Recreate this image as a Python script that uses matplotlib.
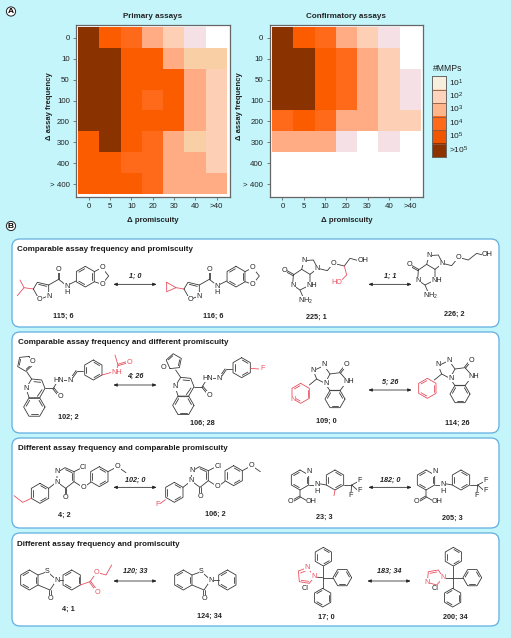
import numpy as np
import matplotlib
matplotlib.use("Agg")
import matplotlib.pyplot as plt
from matplotlib.colors import ListedColormap
from matplotlib.patches import FancyBboxPatch, Circle

plt.rcParams['font.family'] = ['Liberation Sans', 'DejaVu Sans']
plt.rcParams['mathtext.default'] = 'regular'

W, H = 511, 638
BG = '#c4f5fb'
INK = '#3a3a3a'
RED = '#e8505f'
BOX = '#62aee0'

# heatmap data: index into cell_colors
freq_labels = ['0', '10', '50', '100', '200', '300', '400', '> 400']
prom_labels = ['0', '5', '10', '20', '30', '40', '>40']
cell_colors = ['#ffffff', '#f5e1e5', '#fdd0b5', '#ffac84', '#ff6a1a', '#fb5c00', '#8b3300', '#f9cfa5']
primary = [[6, 5, 4, 3, 2, 1, 0],
           [6, 6, 5, 5, 3, 7, 7],
           [6, 6, 5, 5, 5, 3, 2],
           [6, 6, 5, 4, 5, 3, 2],
           [6, 6, 5, 5, 5, 3, 2],
           [5, 6, 5, 4, 3, 7, 2],
           [5, 5, 4, 4, 3, 3, 2],
           [5, 5, 5, 4, 3, 3, 3]]
confirm = [[6, 5, 4, 3, 2, 1, 0],
           [6, 6, 5, 4, 3, 2, 0],
           [6, 6, 5, 4, 3, 2, 1],
           [6, 6, 5, 4, 3, 2, 1],
           [4, 5, 4, 3, 3, 2, 2],
           [3, 3, 3, 1, 0, 1, 0],
           [0, 0, 0, 0, 0, 0, 0],
           [0, 0, 0, 0, 0, 0, 0]]
legend_labels = ['10$^{1}$', '10$^{2}$', '10$^{3}$', '10$^{4}$', '10$^{5}$', '>10$^{5}$']
legend_colors = ['#f5efdc', '#fdd3bc', '#ffb48a', '#ff6a1a', '#f05500', '#8c3300']

panel_titles = ['Comparable assay frequency and promiscuity',
                'Comparable assay frequency and different promiscuity',
                'Different assay frequency and comparable promiscuity',
                'Different assay frequency and promiscuity']


def px_axes(x0, y0, x1, y1):
    return fig.add_axes([x0 / W, 1 - y1 / H, (x1 - x0) / W, (y1 - y0) / H])


def heat(x0, data, title):
    ax = px_axes(x0, 25, x0 + 153.5, 197)
    ax.imshow(data, cmap=ListedColormap(cell_colors), vmin=0, vmax=7, aspect='auto',
              interpolation='nearest')
    ax.set_xlim(-0.61, 6.61)
    ax.set_ylim(7.62, -0.62)
    ax.set_xticks(range(7), prom_labels)
    ax.set_yticks(range(8), freq_labels)
    ax.tick_params(length=2.5, width=0.6, color='#666666', labelsize=5.7, pad=2, labelcolor='#222222')
    for s in ax.spines.values():
        s.set_color('#666666')
        s.set_linewidth(0.9)
    ax.set_title(title, fontsize=5.8, fontweight='bold', pad=5, color='#222222')
    ax.set_xlabel('Δ promiscuity', fontsize=5.6, fontweight='bold', labelpad=5, color='#222222')


fig = plt.figure(figsize=(W / 100, H / 100), dpi=100, facecolor=BG)
heat(76, primary, 'Primary assays')
heat(269.5, confirm, 'Confirmatory assays')

# legend
lax = px_axes(432, 76, 445.5, 157)
lax.imshow([[i] for i in range(6)], cmap=ListedColormap(legend_colors), aspect='auto')
lax.set_xticks([])
lax.set_yticks([])
for i in range(1, 6):
    lax.axhline(i - 0.5, color='#8a5a40', lw=0.6)
for s in lax.spines.values():
    s.set_color('#666666')
    s.set_linewidth(0.7)

# overlay in pixel coordinates, everything of panel B lives here
ov = fig.add_axes([0, 0, 1, 1], facecolor='none')
ov.set_xlim(0, W)
ov.set_ylim(H, 0)
ov.axis('off')

for x in (49.5, 239.5):
    ov.text(x, 106, 'Δ assay frequency', rotation=90, fontsize=5.5, fontweight='bold',
            ha='center', va='center', color='#222222')
ov.text(433, 68.5, '#MMPs', fontsize=6.2, ha='left', va='center', color='#222222')
for i, lab in enumerate(legend_labels):
    ov.text(449, 83 + i * 13.4, lab, fontsize=6, ha='left', va='center', color='#222222')


def letter(y, s):
    ov.add_patch(Circle((11, y), 4.6, fc='white', ec='#222222', lw=0.7))
    ov.text(11, y + 0.2, s, fontsize=6, fontweight='bold', ha='center', va='center')


letter(11.5, 'A')
letter(226, 'B')

panels = [(239, 327), (332, 433), (438, 528), (533, 626)]
title_pos = [(17, 249.5), (18, 343), (18, 449), (17, 544)]
for (y0, y1), t, (tx, ty) in zip(panels, panel_titles, title_pos):
    ov.add_patch(FancyBboxPatch((12 + 8, y0 + 8), 487 - 16, y1 - y0 - 16,
                                boxstyle='round,pad=8,rounding_size=8',
                                fc='white', ec=BOX, lw=0.9))
    ov.text(tx, ty, t, fontsize=5.75, fontweight='bold', ha='left', va='center', color='#1a1a1a')


# molecule helpers, coordinates are 3x pixels relative to an origin
def Z(o, x, y):
    return o[0] + x / 3, o[1] + y / 3


def poly(o, pts, c=INK, closed=False):
    p = [Z(o, *q) for q in pts]
    if closed:
        p.append(p[0])
    ov.plot([q[0] for q in p], [q[1] for q in p], color=c, lw=0.6, solid_capstyle='round', zorder=3)


def dbond(o, a, b, c=INK):
    a, b = np.array(a, float), np.array(b, float)
    n = np.array([b[1] - a[1], a[0] - b[0]])
    n = n / np.hypot(*n) * 2.2
    poly(o, [a + n, b + n], c)
    poly(o, [a - n, b - n], c)


def ring(o, cx, cy, r, rot=90, dbl=(0, 2, 4), c=INK, n=6):
    a = np.radians(rot + np.arange(n) * 360 / n)
    v = np.c_[cx + r * np.cos(a), cy - r * np.sin(a)]
    poly(o, v, c, closed=True)
    m = np.array([cx, cy])
    for i in dbl:
        p = m + (v[i] - m) * 0.8
        q = m + (v[(i + 1) % n] - m) * 0.8
        poly(o, [p + (q - p) * 0.1, q - (q - p) * 0.1], c)


def atom(o, x, y, s, c='#222222'):
    xx, yy = Z(o, x, y)
    ov.text(xx, yy, s, fontsize=5.2, color=c, ha='center', va='center', zorder=4,
            bbox=dict(fc='white', ec='none', pad=0.25))


def caption(o, x, y, s):
    xx, yy = Z(o, x, y)
    ov.text(xx, yy, s, fontsize=5.2, fontweight='bold', ha='center', va='center', color='#222222')


def arrow(o, x0, x1, y, label, ly):
    a, b = Z(o, x0, y), Z(o, x1, y)
    ov.annotate('', xy=b, xytext=a, arrowprops=dict(arrowstyle='<|-|>,head_width=0.09,head_length=0.22',
                                                    color='#222222', lw=0.55, shrinkA=0, shrinkB=0))
    xx, yy = Z(o, (x0 + x1) / 2, ly)
    ov.text(xx, yy, label, fontsize=5.2, fontweight='bold', style='italic', ha='center', va='center', color='#222222')


def isoxazole(o):
    poly(o, [(100, 192), (112, 172), (146, 180), (146, 212), (118, 224)], closed=True)
    poly(o, [(116, 178), (140, 184)])
    poly(o, [(146, 180), (176, 163), (200, 182)])
    dbond(o, (176, 163), (176, 136))
    atom(o, 146, 214, 'N')
    atom(o, 118, 224, 'O')
    atom(o, 176, 133, 'O')
    atom(o, 200, 186, 'N')
    atom(o, 200, 204, 'H')
    poly(o, [(204, 180), (228, 168)])
    ring(o, 256, 155, 31)
    poly(o, [(283, 140), (306, 128), (326, 153), (306, 178), (283, 170)])
    atom(o, 306, 128, 'O')
    atom(o, 306, 178, 'O')


def guanine(o):
    poly(o, [(130, 150), (128, 180), (150, 195), (180, 180), (180, 148), (155, 133)], closed=True)
    dbond(o, (130, 150), (105, 136))
    atom(o, 102, 135, 'O')
    poly(o, [(155, 133), (162, 107), (190, 105), (203, 130), (180, 148)])
    poly(o, [(150, 195), (160, 218)])
    atom(o, 128, 182, 'N')
    atom(o, 186, 182, 'NH')
    atom(o, 166, 228, 'NH$_2$')
    atom(o, 162, 107, 'N')
    atom(o, 202, 131, 'N')


def quinoline(o, furan_rot, furan_at):
    poly(o, [(78, 490), (95, 462), (125, 465), (135, 490), (118, 520), (88, 520)], closed=True)
    poly(o, [(102, 470), (122, 472)])
    poly(o, [(126, 494), (112, 514)])
    ring(o, 103, 546, 32, rot=0, dbl=(0, 2, 4))
    poly(o, [(95, 462), (80, 440)])
    ring(o, 75, 415, 24, rot=furan_rot, dbl=(1, 3), n=5)
    atom(o, furan_at[0], furan_at[1], 'O')
    atom(o, 78, 490, 'N')
    poly(o, [(135, 490), (160, 490)])
    dbond(o, (160, 490), (178, 512))
    atom(o, 181, 516, 'O')
    poly(o, [(160, 490), (172, 470)])
    atom(o, 175, 465, 'HN')
    poly(o, [(185, 465), (205, 465)])
    atom(o, 211, 465, 'N')
    dbond(o, (216, 458), (230, 438))
    poly(o, [(230, 438), (250, 438)])


def triazolo(o):
    poly(o, [(190, 437), (222, 422), (240, 447), (225, 475), (200, 462)], closed=True)
    poly(o, [(240, 447), (270, 443), (292, 468), (270, 497), (240, 497), (225, 475)])
    dbond(o, (270, 443), (285, 424))
    atom(o, 288, 420, 'O')
    ring(o, 255, 522, 30, rot=0, dbl=(0, 2, 4))
    atom(o, 190, 435, 'N')
    atom(o, 222, 420, 'N')
    atom(o, 227, 475, 'N')
    atom(o, 295, 470, 'NH')
    poly(o, [(200, 462), (178, 480)])


def pyridazinone(o):
    poly(o, [(172, 142), (195, 128), (222, 140), (222, 170), (197, 190), (170, 170)], closed=True)
    poly(o, [(197, 134), (216, 143)])
    poly(o, [(216, 145), (216, 165)])
    dbond(o, (197, 190), (197, 215))
    atom(o, 197, 218, 'O')
    atom(o, 172, 140, 'N')
    atom(o, 170, 171, 'N')
    poly(o, [(222, 140), (240, 131)])
    atom(o, 250, 128, 'Cl')
    poly(o, [(222, 170), (250, 188), (272, 172)])
    atom(o, 250, 188, 'O')
    ring(o, 298, 155, 30, rot=90, dbl=(1, 3, 5))
    poly(o, [(324, 140), (352, 125), (378, 143)])
    atom(o, 352, 125, 'O')
    poly(o, [(170, 171), (146, 190)])
    ring(o, 120, 205, 30, rot=90, dbl=(1, 3, 5))


def benzisothiazolone(o):
    ring(o, 88, 465, 30, rot=90, dbl=(0, 2, 4))
    poly(o, [(114, 450), (142, 440), (170, 465), (150, 495), (114, 480)])
    dbond(o, (150, 495), (150, 518))
    atom(o, 150, 522, 'O')
    atom(o, 142, 440, 'S')
    atom(o, 170, 465, 'N')


# box 1
C3, C4, C5, C6 = (0, 225), (250, 225), (0, 425), (250, 425)
isoxazole(C3)
poly(C3, [(100, 192), (72, 188), (60, 165)], RED)
poly(C3, [(72, 188), (52, 212)], RED)
caption(C3, 189, 273, '115; 6')
arrow(C3, 340, 470, 178, '1; 0', 155)

isoxazole((452 / 3, 0 + 225))
poly(C3, [(500, 172), (500, 200), (528, 188)], RED, closed=True)
poly(C3, [(528, 188), (552, 192)], RED)
caption(C3, 640, 273, '116; 6')

guanine(C4)
poly(C4, [(203, 130), (232, 137), (250, 115), (283, 123), (300, 100), (322, 106)])
atom(C4, 250, 115, 'O')
atom(C4, 338, 108, 'OH')
poly(C4, [(283, 123), (290, 150), (270, 170)], RED)
atom(C4, 260, 172, 'HO', RED)
caption(C4, 200, 276, '225; 1')
arrow(C4, 355, 485, 178, '1; 1', 155)

guanine((250 + 375 / 3, 225 - 15 / 3))
poly(C4, [(578, 115), (605, 122), (625, 97), (655, 105), (680, 85), (698, 90)])
atom(C4, 625, 97, 'O')
atom(C4, 712, 90, 'OH')
caption(C4, 613, 268, '226; 2')

# box 2
quinoline(C3, 60, (98, 410))
ring(C3, 280, 435, 30, rot=90, dbl=(1, 3, 5))
poly(C3, [(306, 450), (335, 442)], RED)
atom(C3, 350, 442, 'NH', RED)
poly(C3, [(350, 434), (354, 420), (345, 390)], RED)
dbond(C3, (354, 420), (380, 412), RED)
atom(C3, 388, 412, 'O', RED)
caption(C3, 206, 577, '102; 2')
arrow(C3, 340, 470, 480, '4; 26', 455)

quinoline((447 / 3, 225 - 5 / 3), 240, (43, 432))
ring(C3, 725, 428, 30, rot=90, dbl=(1, 3, 5))
poly(C3, [(752, 430), (776, 432)], RED)
atom(C4, 37, 432, 'F', RED)
caption(C3, 608, 594, '106; 28')

triazolo(C4)
ring(C4, 152, 505, 30, rot=90, dbl=(0, 2, 4), c=RED)
atom(C4, 130, 524, 'N', RED)
caption(C4, 228, 589, '109; 0')
arrow(C4, 355, 485, 495, '5; 26', 472)

triazolo((250 + 375 / 3, 225 - 15 / 3))
ring(C4, 532, 490, 30, rot=90, dbl=(0, 2, 4), c=RED)
caption(C4, 622, 594, '114; 26')

# box 3
pyridazinone(C5)
poly(C5, [(94, 220), (68, 232), (42, 212)], RED)
caption(C5, 192, 270, '4; 2')
arrow(C5, 340, 470, 187, '102; 0', 165)

pyridazinone((403 / 3, 425 - 3 / 3))
poly(C5, [(496, 224), (480, 236)], RED)
atom(C5, 472, 240, 'F', RED)
caption(C5, 645, 268, '106; 2')

for o, lab, lx, ly in [(C6, '23; 3', 222, 276), ((250 + 378 / 3, 425), '205; 3', 230, 279)]:
    ring(o, 150, 165, 30, rot=90, dbl=(0, 2, 4))
    atom(o, 176, 140, 'N')
    poly(o, [(176, 180), (198, 180)])
    atom(o, 202, 180, 'N')
    atom(o, 202, 199, 'H')
    poly(o, [(207, 176), (229, 180)])
    ring(o, 255, 165, 30, rot=90, dbl=(1, 3, 5))
    poly(o, [(281, 180), (305, 180)])
    poly(o, [(305, 180), (324, 170)])
    poly(o, [(305, 180), (322, 195)])
    poly(o, [(305, 180), (303, 204)])
    atom(o, 330, 168, 'F')
    atom(o, 330, 198, 'F')
    atom(o, 303, 212, 'F')
    poly(o, [(150, 195), (150, 215), (172, 228)])
    dbond(o, (150, 215), (128, 228))
    atom(o, 122, 230, 'O')
    atom(o, 184, 230, 'OH')
    caption(o, lx, ly, lab)
poly(C6, [(255, 195), (252, 212)], RED)
arrow(C6, 355, 485, 187, '182; 0', 165)

# box 4
benzisothiazolone(C5)
poly(C5, [(170, 465), (188, 465)])
ring(C5, 215, 465, 30, rot=90, dbl=(0, 2, 4))
poly(C5, [(241, 480), (270, 470)], RED)
dbond(C5, (270, 470), (290, 497), RED)
atom(C5, 293, 501, 'O', RED)
poly(C5, [(270, 470), (290, 442), (318, 450), (335, 420)], RED)
atom(C5, 290, 442, 'O', RED)
caption(C5, 205, 553, '4; 1')
arrow(C5, 340, 470, 468, '120; 33', 440)

benzisothiazolone((462 / 3, 425))
poly(C5, [(632, 465), (656, 465)])
ring(C5, 682, 465, 30, rot=90, dbl=(0, 2, 4))
caption(C5, 627, 574, '124; 34')

for o, cap, cx in [(C6, '17; 0', 230), (C6, '200; 34', 617)]:
    mx = 218 if cx == 230 else 608
    poly(o, [(mx, 458), (mx, 424)])
    poly(o, [(mx, 458), (mx + 31, 458)])
    poly(o, [(mx, 458), (mx, 490)])
    ring(o, mx + 2, 395, 28, rot=90, dbl=(1, 3, 5))
    ring(o, mx + 59, 458, 28, rot=0, dbl=(0, 2, 4))
    ring(o, mx, 518, 28, rot=90, dbl=(0, 2, 4))
    atom(o, mx - 52, 492, 'Cl')
    caption(o, cx, 578, cap)
poly(C6, [(193, 455), (172, 428), (145, 438), (148, 470), (178, 475)], RED, closed=True)
poly(C6, [(193, 456), (218, 458)], INK)
atom(C6, 193, 454, 'N', RED)
atom(C6, 172, 427, 'N', RED)
poly(C6, [(152, 444), (168, 437)], RED)
poly(C6, [(154, 466), (176, 469)], RED)
poly(C6, [(580, 458), (565, 435), (535, 440), (532, 472), (560, 480)], RED, closed=True)
poly(C6, [(580, 458), (608, 458)], INK)
atom(C6, 580, 458, 'N', RED)
atom(C6, 532, 472, 'N', RED)
poly(C6, [(540, 445), (560, 441)], RED)
arrow(C6, 352, 482, 468, '183; 34', 440)

fig.savefig('out.png', dpi=100, facecolor=BG)
